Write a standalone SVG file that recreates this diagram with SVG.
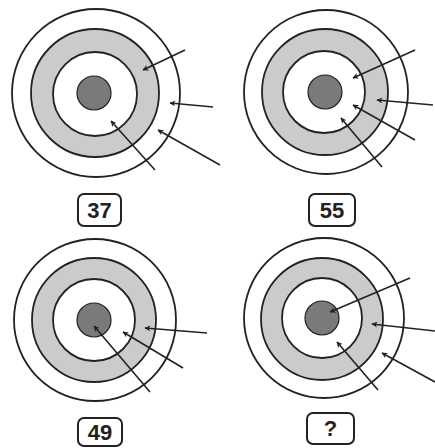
<svg xmlns="http://www.w3.org/2000/svg" width="435" height="448" viewBox="0 0 435 448">
<defs>
<style>
.outer{fill:#fff;stroke:#222;stroke-width:1.8}
.gray{fill:#cbcbcb;stroke:#222;stroke-width:1.8}
.inner{fill:#fff;stroke:#222;stroke-width:1.8}
.bull{fill:#7a7a7a;stroke:#222;stroke-width:1.2}
.arrow{fill:none;stroke:#222;stroke-width:1.6;marker-end:url(#ah)}
.box{fill:#fff;stroke:#222;stroke-width:2}
.lbl{font-family:"Liberation Sans",Arial,sans-serif;font-weight:bold;font-size:22px;fill:#222;text-anchor:middle}
</style>
<marker id="ah" viewBox="0 0 10 10" refX="9" refY="5" markerWidth="6" markerHeight="6" markerUnits="userSpaceOnUse" orient="auto">
<path d="M0,0 L10,5 L0,10 L3,5 Z" fill="#222"/>
</marker>
</defs>
<rect width="435" height="448" fill="#fff"/>
<g id="target1">
<circle class="outer" cx="96" cy="93" r="84"/>
<circle class="gray" cx="95" cy="93" r="64"/>
<circle class="inner" cx="95" cy="94" r="42"/>
<circle class="bull" cx="94" cy="93" r="17"/>
</g>
<g id="target2">
<circle class="outer" cx="326" cy="92" r="82"/>
<circle class="gray" cx="325" cy="92" r="63"/>
<circle class="inner" cx="324" cy="92" r="41"/>
<circle class="bull" cx="325" cy="92" r="17"/>
</g>
<g id="target3">
<circle class="outer" cx="95" cy="320" r="81"/>
<circle class="gray" cx="94" cy="320" r="62"/>
<circle class="inner" cx="94" cy="320" r="41"/>
<circle class="bull" cx="94" cy="320" r="17"/>
</g>
<g id="target4">
<circle class="outer" cx="324" cy="318" r="80"/>
<circle class="gray" cx="322" cy="319" r="61"/>
<circle class="inner" cx="322" cy="318" r="40"/>
<circle class="bull" cx="322" cy="318" r="17"/>
</g>
<g id="connectors">
<line class="arrow" x1="185" y1="50" x2="143" y2="70"/>
<line class="arrow" x1="213" y1="107" x2="170" y2="103"/>
<line class="arrow" x1="220" y1="165" x2="158" y2="130"/>
<line class="arrow" x1="155" y1="170" x2="111" y2="121"/>
<line class="arrow" x1="415" y1="50" x2="353" y2="78"/>
<line class="arrow" x1="433" y1="105" x2="377" y2="100"/>
<line class="arrow" x1="415" y1="140" x2="353" y2="105"/>
<line class="arrow" x1="382" y1="167" x2="341" y2="118"/>
<line class="arrow" x1="207" y1="333" x2="145" y2="328"/>
<line class="arrow" x1="183" y1="368" x2="123" y2="332"/>
<line class="arrow" x1="150" y1="392" x2="94" y2="326"/>
<line class="arrow" x1="410" y1="278" x2="330" y2="312"/>
<line class="arrow" x1="435" y1="331" x2="372" y2="324"/>
<line class="arrow" x1="435" y1="382" x2="382" y2="353"/>
<line class="arrow" x1="378" y1="390" x2="337" y2="342"/>
</g>
<g id="label1">
<rect class="box" x="78" y="194" width="43" height="32" rx="6"/>
<text class="lbl" x="99.5" y="218">37</text>
</g>
<g id="label2">
<rect class="box" x="309" y="194" width="46" height="32" rx="6"/>
<text class="lbl" x="332" y="218">55</text>
</g>
<g id="label3">
<rect class="box" x="78" y="418" width="44" height="28" rx="6"/>
<text class="lbl" x="100" y="440">49</text>
</g>
<g id="label4">
<rect class="box" x="307" y="413" width="47" height="31" rx="6"/>
<text class="lbl" x="330.5" y="436">?</text>
</g>
</svg>
